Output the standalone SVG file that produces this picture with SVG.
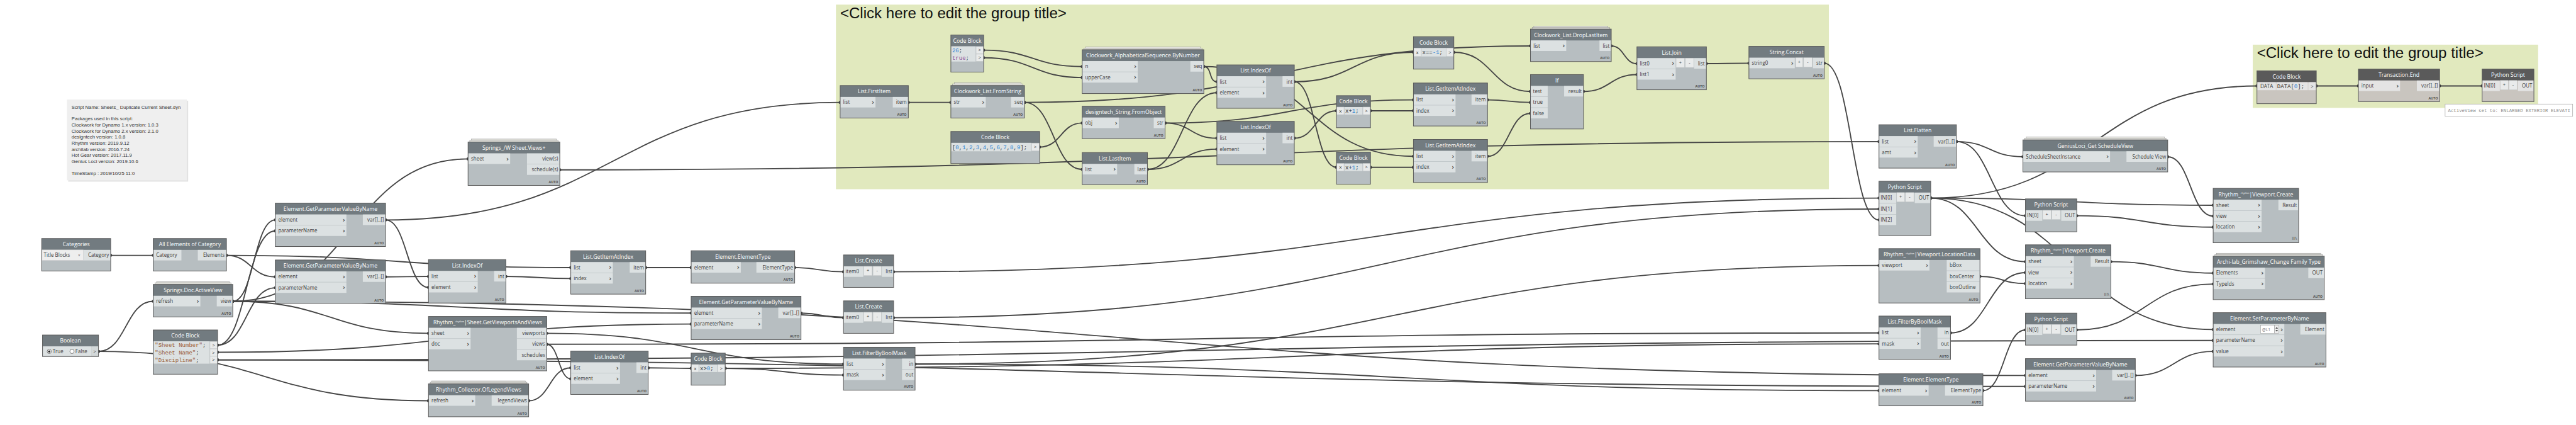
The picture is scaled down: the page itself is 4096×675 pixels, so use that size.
<svg xmlns="http://www.w3.org/2000/svg" width="4096" height="675" viewBox="0 0 4096 675">
<defs>
<style>
.nb{fill:#b7bec1}
.nh{fill:#727b80}
.ol{fill:none;stroke:#5a5a5a;stroke-width:1.5}
.nbx{fill:#c9c5bf}
.nhx{fill:#5a5a5a}
.pr{fill:#dce1e2}
.prx{fill:#e4e4e4}
.bt{fill:#e9ebeb;stroke:#c3c7c8;stroke-width:0.8}
.stk{fill:#e4e4de;stroke:#8c8c8c;stroke-width:0.8}
.ttl{font-family:"Open Sans",sans-serif;font-size:13px;fill:#ffffff;text-anchor:middle}
.pl{font-family:"Open Sans",sans-serif;font-size:12px;fill:#3c3c3c}
.pre{font-family:"Open Sans",sans-serif;font-size:12px;fill:#3c3c3c;text-anchor:end}
.ch{font-family:"DejaVu Sans",sans-serif;font-size:15px;font-weight:bold;fill:#4a4a4a;text-anchor:middle}
.au{font-family:"Open Sans",sans-serif;font-size:8px;font-weight:700;fill:#4d4d4d;text-anchor:end}
.btn{font-family:"Open Sans",sans-serif;font-size:11px;fill:#3c3c3c;text-anchor:middle}
.cd{font-family:"Liberation Mono",monospace;font-size:13.5px;fill:#333333}
.num{fill:#2d86d6}
.str{fill:#9a5d33}
.kw{fill:#8b4e9e}
.sup{font-size:6px}
.w{fill:none;stroke:#464646;stroke-width:2.8;marker-start:url(#dot);marker-end:url(#dot)}
.grp{fill:#e1e9be}
.gt{font-family:"Liberation Sans",sans-serif;font-size:36px;fill:#111111}
.note{font-family:"Liberation Sans",sans-serif;font-size:11.5px;fill:#333333}
</style>
<marker id="dot" viewBox="-4 -4 8 8" markerWidth="8" markerHeight="8" markerUnits="userSpaceOnUse" refX="0" refY="0"><circle r="3.6" fill="#3a3a3a"/></marker>
</defs>
<rect width="4096" height="675" fill="#ffffff"/>
<g transform="scale(0.669281)">
<g id="groups">
<rect class="grp" x="1986" y="11" width="2359" height="438"/>
<text class="gt" x="1996" y="43">&lt;Click here to edit the group title&gt;</text>
<rect class="grp" x="5352" y="106" width="678" height="150"/>
<text class="gt" x="5362" y="137">&lt;Click here to edit the group title&gt;</text>
</g>
<g id="note">
<rect x="162" y="239" width="285" height="192" fill="#e2e2e2"/>
<rect x="159" y="236" width="285" height="192" fill="#efefef"/>
<text class="note" x="170" y="258">Script Name: Sheets_ Duplicate Current Sheet.dyn</text>
<text class="note" x="170" y="285">Packages used in this script:</text>
<text class="note" x="170" y="300">Clockwork for Dynamo 1.x version: 1.0.3</text>
<text class="note" x="170" y="315">Clockwork for Dynamo 2.x version: 2.1.0</text>
<text class="note" x="170" y="329">designtech version: 1.0.8</text>
<text class="note" x="170" y="344">Rhythm version: 2019.9.12</text>
<text class="note" x="170" y="358">archilab version: 2016.7.24</text>
<text class="note" x="170" y="372">Hot Gear version: 2017.11.9</text>
<text class="note" x="170" y="387">Genius Loci version: 2019.10.6</text>
<text class="note" x="170" y="415">TimeStamp : 2019/10/25 11:0</text>
</g>
<g id="connectors">
<path class="w" d="M263 606H364"/>
<path class="w" d="M538 606C596 606 596 657 654 657"/>
<path class="w" d="M538 606C947 606 947 635 1356 635"/>
<path class="w" d="M553 715C603.5 715 603.5 522 654 522"/>
<path class="w" d="M517 819C585.5 819 585.5 548 654 548"/>
<path class="w" d="M517 819C585.5 819 585.5 683 654 683"/>
<path class="w" d="M553 715C832.5 715 832.5 377 1112 377"/>
<path class="w" d="M553 715C785.5 715 785.5 791 1018 791"/>
<path class="w" d="M553 715C1097.5 715 1097.5 743 1642 743"/>
<path class="w" d="M553 715C2682.5 715 2682.5 891 4812 891"/>
<path class="w" d="M234 834C299 834 299 715 364 715"/>
<path class="w" d="M234 834C626 834 626 951 1018 951"/>
<path class="w" d="M916 522C967 522 967 682 1018 682"/>
<path class="w" d="M916 522C1456 522 1456 243 1996 243"/>
<path class="w" d="M916 657C967 657 967 656 1018 656"/>
<path class="w" d="M1202 656C1279 656 1279 661 1356 661"/>
<path class="w" d="M1534 635H1642"/>
<path class="w" d="M1888 635C1946 635 1946 645 2004 645"/>
<path class="w" d="M517 836C1079.5 836 1079.5 769 1642 769"/>
<path class="w" d="M1903 743C1953.5 743 1953.5 754 2004 754"/>
<path class="w" d="M1299 791C1651.5 791 1651.5 864 2004 864"/>
<path class="w" d="M1299 817C1327.5 817 1327.5 899 1356 899"/>
<path class="w" d="M1299 817C2881.5 817 2881.5 790 4464 790"/>
<path class="w" d="M1256 951C1306 951 1306 873 1356 873"/>
<path class="w" d="M1540 873C1591 873 1591 874 1642 874"/>
<path class="w" d="M1723 874C1863.5 874 1863.5 890 2004 890"/>
<path class="w" d="M1723 874C3093.5 874 3093.5 816 4464 816"/>
<path class="w" d="M517 854C2887.5 854 2887.5 808 5258 808"/>
<path class="w" d="M517 854C2664.5 854 2664.5 917 4812 917"/>
<path class="w" d="M2174 864C3319 864 3319 630 4464 630"/>
<path class="w" d="M2174 864C3319 864 3319 927 4464 927"/>
<path class="w" d="M2123 645C3293.5 645 3293.5 470 4464 470"/>
<path class="w" d="M2123 754C3293.5 754 3293.5 496 4464 496"/>
<path class="w" d="M1330 403C2897 403 2897 336 4464 336"/>
<path class="w" d="M2158 243H2259"/>
<path class="w" d="M2434 243C3035 243 3035 109 3636 109"/>
<path class="w" d="M2434 243C2502.5 243 2502.5 402 2571 402"/>
<path class="w" d="M2337 119C2454 119 2454 158 2571 158"/>
<path class="w" d="M2337 137C2454 137 2454 184 2571 184"/>
<path class="w" d="M2470 349C2520.5 349 2520.5 292 2571 292"/>
<path class="w" d="M2860 158C2880 158 2871 194 2891 194"/>
<path class="w" d="M2860 158C3109 158 3109 371 3358 371"/>
<path class="w" d="M2768 292C2829.5 292 2829.5 328 2891 328"/>
<path class="w" d="M2768 292C3063 292 3063 237 3358 237"/>
<path class="w" d="M2726 402C2808.5 402 2808.5 220 2891 220"/>
<path class="w" d="M2726 402C2808.5 402 2808.5 354 2891 354"/>
<path class="w" d="M3075 194C3216.5 194 3216.5 124 3358 124"/>
<path class="w" d="M3075 194C3125 194 3125 397 3175 397"/>
<path class="w" d="M3075 328C3125 328 3125 263 3175 263"/>
<path class="w" d="M3256 263H3358"/>
<path class="w" d="M3256 397H3358"/>
<path class="w" d="M3454 124C3545 124 3545 217 3636 217"/>
<path class="w" d="M3534 237C3585 237 3585 243 3636 243"/>
<path class="w" d="M3534 371C3585 371 3585 269 3636 269"/>
<path class="w" d="M3828 109C3858.5 109 3858.5 151 3889 151"/>
<path class="w" d="M3762 217C3825.5 217 3825.5 177 3889 177"/>
<path class="w" d="M4054 151C4104 151 4104 150 4155 150"/>
<path class="w" d="M4334 150C4399 150 4399 522 4464 522"/>
<path class="w" d="M4648 336C4727 336 4727 372 4806 372"/>
<path class="w" d="M4648 336C4730 336 4730 512 4812 512"/>
<path class="w" d="M4587 470C4974.5 470 4974.5 204 5362 204"/>
<path class="w" d="M4587 470C4922.5 470 4922.5 487 5258 487"/>
<path class="w" d="M4587 470C4699.5 470 4699.5 621 4812 621"/>
<path class="w" d="M4587 470C4922.5 470 4922.5 782 5258 782"/>
<path class="w" d="M5150 372C5204 372 5204 513 5258 513"/>
<path class="w" d="M4934 512C5096 512 5096 539 5258 539"/>
<path class="w" d="M4704 656C4758 656 4758 673 4812 673"/>
<path class="w" d="M4634 790C4723 790 4723 647 4812 647"/>
<path class="w" d="M5015 621C5136.5 621 5136.5 648 5258 648"/>
<path class="w" d="M4711 927C4761.5 927 4761.5 783 4812 783"/>
<path class="w" d="M4934 783C5096 783 5096 674 5258 674"/>
<path class="w" d="M5073 891C5165.5 891 5165.5 834 5258 834"/>
<path class="w" d="M5503 204H5603"/>
<path class="w" d="M5796 204H5897"/>
</g>

<g id="n-categories" transform="translate(99,566)">
<rect class="nb" width="164" height="77"/><rect class="nh" width="164" height="27"/>
<text class="ttl" x="82" y="18.5">Categories</text>
<rect x="1" y="27" width="98" height="25" fill="#eeeeee" stroke="#cccccc" stroke-width="0.8"/>
<text class="pl" x="5" y="44">Title Blocks</text>
<text class="btn" x="89" y="42" style="font-size:8px">v</text>
<rect class="pr" x="99" y="27" width="64" height="25"/><text class="pre" x="160" y="44">Category</text>
<rect class="ol" width="164" height="77"/>
</g>

<g id="n-allelements" transform="translate(364,566)">
<rect class="nb" width="174" height="77"/><rect class="nh" width="174" height="27"/>
<text class="ttl" x="87" y="18.5">All Elements of Category</text>
<rect class="pr" x="1" y="27" width="66" height="25"/><text class="pl" x="7" y="44">Category</text>
<rect class="pr" x="106" y="27" width="67" height="25"/><text class="pre" x="170" y="44">Elements</text>
<rect class="ol" width="174" height="77"/>
</g>

<g id="n-getparam1" transform="translate(654,482)">
<rect class="nb" width="262" height="103"/><rect class="nh" width="262" height="27"/>
<text class="ttl" x="131" y="18.5">Element.GetParameterValueByName</text>
<rect class="pr" x="1" y="27" width="168" height="25"/><text class="pl" x="7" y="44">element</text><text class="ch" x="163" y="45">›</text>
<rect class="pr" x="1" y="53" width="168" height="25"/><text class="pl" x="7" y="70">parameterName</text><text class="ch" x="163" y="71">›</text>
<rect class="pr" x="208" y="27" width="53" height="25"/><text class="pre" x="258" y="44">var[]..[]</text>
<text class="au" x="258" y="98">AUTO</text>
<rect class="ol" width="262" height="103"/>
</g>

<g id="n-getparam2" transform="translate(654,617)">
<rect class="nb" width="262" height="103"/><rect class="nh" width="262" height="27"/>
<text class="ttl" x="131" y="18.5">Element.GetParameterValueByName</text>
<rect class="pr" x="1" y="27" width="168" height="25"/><text class="pl" x="7" y="44">element</text><text class="ch" x="163" y="45">›</text>
<rect class="pr" x="1" y="53" width="168" height="25"/><text class="pl" x="7" y="70">parameterName</text><text class="ch" x="163" y="71">›</text>
<rect class="pr" x="208" y="27" width="53" height="25"/><text class="pre" x="258" y="44">var[]..[]</text>
<text class="au" x="258" y="98">AUTO</text>
<rect class="ol" width="262" height="103"/>
</g>

<g id="n-activeview" transform="translate(364,675)">
<rect class="stk" x="8" y="-7" width="173" height="4"/><rect class="stk" x="4" y="-4" width="181" height="4"/>
<rect class="nb" width="189" height="77"/><rect class="nh" width="189" height="27"/>
<text class="ttl" x="94.5" y="18.5">Springs.Doc.ActiveView</text>
<rect class="pr" x="1" y="27" width="111" height="25"/><text class="pl" x="7" y="44">refresh</text><text class="ch" x="106" y="45">›</text>
<rect class="pr" x="151" y="27" width="37" height="25"/><text class="pre" x="185" y="44">view</text>
<text class="au" x="185" y="72">AUTO</text>
<rect class="ol" width="189" height="77"/>
</g>

<g id="n-boolean" transform="translate(101,795)">
<rect class="nb" width="133" height="51"/><rect class="nh" width="133" height="27"/>
<text class="ttl" x="66.5" y="18.5">Boolean</text>
<rect class="pr" x="1" y="27" width="115" height="23"/>
<circle cx="16" cy="39" r="5" fill="#ffffff" stroke="#444444" stroke-width="1"/><circle cx="16" cy="39" r="2.6" fill="#222222"/>
<text class="pl" x="24" y="43.5">True</text>
<circle cx="70" cy="39" r="5" fill="#ffffff" stroke="#444444" stroke-width="1"/>
<text class="pl" x="78" y="43.5">False</text>
<rect x="116" y="27" width="16" height="23" fill="#d3d8d9"/><text class="btn" x="124" y="43">&gt;</text>
<rect class="ol" width="133" height="51"/>
</g>

<g id="n-codeblock-params" transform="translate(364,783)">
<rect class="nb" width="153" height="105"/><rect class="nh" width="153" height="27"/>
<text class="ttl" x="76.5" y="18.5">Code Block</text>
<rect class="pr" x="1" y="27" width="133" height="53"/>
<text class="cd" x="4" y="40.5"><tspan class="str">"Sheet Number"</tspan>;</text>
<text class="cd" x="4" y="58"><tspan class="str">"Sheet Name"</tspan>;</text>
<text class="cd" x="4" y="75.5"><tspan class="str">"Discipline"</tspan>;</text>
<rect class="bt" x="135" y="27.5" width="17" height="17"/><text class="btn" x="143.5" y="40">&gt;</text>
<rect class="bt" x="135" y="45" width="17" height="17"/><text class="btn" x="143.5" y="57.5">&gt;</text>
<rect class="bt" x="135" y="62.5" width="17" height="17"/><text class="btn" x="143.5" y="75">&gt;</text>
<rect class="ol" width="153" height="105"/>
</g>

<g id="n-sheetviews" transform="translate(1112,337)">
<rect class="stk" x="8" y="-7" width="202" height="4"/><rect class="stk" x="4" y="-4" width="210" height="4"/>
<rect class="nb" width="218" height="103"/><rect class="nh" width="218" height="27"/>
<text class="ttl" x="109" y="18.5">Springs_/W Sheet.Views+</text>
<rect class="pr" x="1" y="27" width="99" height="25"/><text class="pl" x="7" y="44">sheet</text><text class="ch" x="94" y="45">›</text>
<rect class="pr" x="140" y="27" width="77" height="25"/><text class="pre" x="214" y="44">view(s)</text>
<rect class="pr" x="140" y="53" width="77" height="25"/><text class="pre" x="214" y="70">schedule(s)</text>
<text class="au" x="214" y="98">AUTO</text>
<rect class="ol" width="218" height="103"/>
</g>

<g id="n-indexof-a" transform="translate(1018,616)">
<rect class="nb" width="184" height="103"/><rect class="nh" width="184" height="27"/>
<text class="ttl" x="92" y="18.5">List.IndexOf</text>
<rect class="pr" x="1" y="27" width="116" height="25"/><text class="pl" x="7" y="44">list</text><text class="ch" x="111" y="45">›</text>
<rect class="pr" x="1" y="53" width="116" height="25"/><text class="pl" x="7" y="70">element</text><text class="ch" x="111" y="71">›</text>
<rect class="pr" x="156" y="27" width="27" height="25"/><text class="pre" x="180" y="44">int</text>
<text class="au" x="180" y="98">AUTO</text>
<rect class="ol" width="184" height="103"/>
</g>

<g id="n-getitem-a" transform="translate(1356,595)">
<rect class="nb" width="178" height="103"/><rect class="nh" width="178" height="27"/>
<text class="ttl" x="89" y="18.5">List.GetItemAtIndex</text>
<rect class="pr" x="1" y="27" width="99" height="25"/><text class="pl" x="7" y="44">list</text><text class="ch" x="94" y="45">›</text>
<rect class="pr" x="1" y="53" width="99" height="25"/><text class="pl" x="7" y="70">index</text><text class="ch" x="94" y="71">›</text>
<rect class="pr" x="140" y="27" width="37" height="25"/><text class="pre" x="174" y="44">item</text>
<text class="au" x="174" y="98">AUTO</text>
<rect class="ol" width="178" height="103"/>
</g>

<g id="n-elementtype-a" transform="translate(1642,595)">
<rect class="nb" width="246" height="77"/><rect class="nh" width="246" height="27"/>
<text class="ttl" x="123" y="18.5">Element.ElementType</text>
<rect class="pr" x="1" y="27" width="117" height="25"/><text class="pl" x="7" y="44">element</text><text class="ch" x="112" y="45">›</text>
<rect class="pr" x="155" y="27" width="90" height="25"/><text class="pre" x="242" y="44">ElementType</text>
<text class="au" x="242" y="72">AUTO</text>
<rect class="ol" width="246" height="77"/>
</g>

<g id="n-getparam3" transform="translate(1642,703)">
<rect class="nb" width="261" height="103"/><rect class="nh" width="261" height="27"/>
<text class="ttl" x="130.5" y="18.5">Element.GetParameterValueByName</text>
<rect class="pr" x="1" y="27" width="167" height="25"/><text class="pl" x="7" y="44">element</text><text class="ch" x="162" y="45">›</text>
<rect class="pr" x="1" y="53" width="167" height="25"/><text class="pl" x="7" y="70">parameterName</text><text class="ch" x="162" y="71">›</text>
<rect class="pr" x="207" y="27" width="53" height="25"/><text class="pre" x="257" y="44">var[]..[]</text>
<text class="au" x="257" y="98">AUTO</text>
<rect class="ol" width="261" height="103"/>
</g>

<g id="n-viewportsandviews" transform="translate(1018,751)">
<rect class="nb" width="281" height="129"/><rect class="nh" width="281" height="27"/>
<text class="ttl" x="140.5" y="18.5">Rhythm_<tspan class="sup" dy="-5">rhythm</tspan><tspan dy="5">|Sheet.GetViewportsAndViews</tspan></text>
<rect class="pr" x="1" y="27" width="99" height="25"/><text class="pl" x="7" y="44">sheet</text><text class="ch" x="94" y="45">›</text>
<rect class="pr" x="1" y="53" width="99" height="25"/><text class="pl" x="7" y="70">doc</text><text class="ch" x="94" y="71">›</text>
<rect class="pr" x="210" y="27" width="70" height="25"/><text class="pre" x="277" y="44">viewports</text>
<rect class="pr" x="210" y="53" width="70" height="25"/><text class="pre" x="277" y="70">views</text>
<rect class="pr" x="210" y="79" width="70" height="25"/><text class="pre" x="277" y="96">schedules</text>
<text class="au" x="277" y="124">AUTO</text>
<rect class="ol" width="281" height="129"/>
</g>

<g id="n-indexof-b" transform="translate(1356,833)">
<rect class="nb" width="184" height="103"/><rect class="nh" width="184" height="27"/>
<text class="ttl" x="92" y="18.5">List.IndexOf</text>
<rect class="pr" x="1" y="27" width="116" height="25"/><text class="pl" x="7" y="44">list</text><text class="ch" x="111" y="45">›</text>
<rect class="pr" x="1" y="53" width="116" height="25"/><text class="pl" x="7" y="70">element</text><text class="ch" x="111" y="71">›</text>
<rect class="pr" x="156" y="27" width="27" height="25"/><text class="pre" x="180" y="44">int</text>
<text class="au" x="180" y="98">AUTO</text>
<rect class="ol" width="184" height="103"/>
</g>

<g id="n-codeblock-gt0" transform="translate(1642,838)">
<rect class="nb" width="81" height="76"/><rect class="nh" width="81" height="27"/>
<text class="ttl" x="40.5" y="18.5">Code Block</text>
<rect class="bt" x="1" y="27" width="17" height="18"/><text class="btn" x="9.5" y="40">x</text>
<rect class="pr" x="19" y="27" width="43" height="18"/><text class="cd" x="21" y="40.5">x&gt;<tspan class="num">0</tspan>;</text>
<rect class="bt" x="63" y="27" width="17" height="18"/><text class="btn" x="71.5" y="40">&gt;</text>
<rect class="ol" width="81" height="76"/>
</g>

<g id="n-legendviews" transform="translate(1018,911)">
<rect class="stk" x="8" y="-7" width="222" height="4"/><rect class="stk" x="4" y="-4" width="230" height="4"/>
<rect class="nb" width="238" height="78"/><rect class="nh" width="238" height="27"/>
<text class="ttl" x="119" y="18.5">Rhythm_Collector.OfLegendViews</text>
<rect class="pr" x="1" y="27" width="110" height="25"/><text class="pl" x="7" y="44">refresh</text><text class="ch" x="105" y="45">›</text>
<rect class="pr" x="150" y="27" width="87" height="25"/><text class="pre" x="234" y="44">legendViews</text>
<text class="au" x="234" y="73">AUTO</text>
<rect class="ol" width="238" height="78"/>
</g>

<g id="n-listcreate-a" transform="translate(2004,605)">
<rect class="nb" width="119" height="77"/><rect class="nh" width="119" height="27"/>
<text class="ttl" x="59.5" y="18.5">List.Create</text>
<rect class="pr" x="1" y="27" width="46" height="25"/><text class="pl" x="5" y="44">item0</text>
<rect class="bt" x="48" y="27" width="20" height="22"/><text class="btn" x="58" y="41">+</text>
<rect class="bt" x="70" y="27" width="20" height="22"/><text class="btn" x="80" y="41">-</text>
<rect class="pr" x="91" y="27" width="27" height="25"/><text class="pre" x="116" y="44">list</text>
<rect class="ol" width="119" height="77"/>
</g>

<g id="n-listcreate-b" transform="translate(2004,714)">
<rect class="nb" width="119" height="77"/><rect class="nh" width="119" height="27"/>
<text class="ttl" x="59.5" y="18.5">List.Create</text>
<rect class="pr" x="1" y="27" width="46" height="25"/><text class="pl" x="5" y="44">item0</text>
<rect class="bt" x="48" y="27" width="20" height="22"/><text class="btn" x="58" y="41">+</text>
<rect class="bt" x="70" y="27" width="20" height="22"/><text class="btn" x="80" y="41">-</text>
<rect class="pr" x="91" y="27" width="27" height="25"/><text class="pre" x="116" y="44">list</text>
<rect class="ol" width="119" height="77"/>
</g>

<g id="n-filter-a" transform="translate(2004,824)">
<rect class="nb" width="170" height="102"/><rect class="nh" width="170" height="27"/>
<text class="ttl" x="85" y="18.5">List.FilterByBoolMask</text>
<rect class="pr" x="1" y="27" width="99" height="25"/><text class="pl" x="7" y="44">list</text><text class="ch" x="94" y="45">›</text>
<rect class="pr" x="1" y="53" width="99" height="25"/><text class="pl" x="7" y="70">mask</text><text class="ch" x="94" y="71">›</text>
<rect class="pr" x="139" y="27" width="30" height="25"/><text class="pre" x="166" y="44">in</text>
<rect class="pr" x="139" y="53" width="30" height="25"/><text class="pre" x="166" y="70">out</text>
<text class="au" x="166" y="97">AUTO</text>
<rect class="ol" width="170" height="102"/>
</g>

<g id="n-codeblock-26" transform="translate(2259,83)">
<rect class="nb" width="78" height="88"/><rect class="nh" width="78" height="27"/>
<text class="ttl" x="39" y="18.5">Code Block</text>
<rect class="pr" x="1" y="27" width="58" height="36"/>
<text class="cd" x="3" y="41"><tspan class="num">26</tspan>;</text>
<text class="cd" x="3" y="59"><tspan class="kw">true</tspan>;</text>
<rect class="bt" x="60" y="27.5" width="17" height="17"/><text class="btn" x="68.5" y="40">&gt;</text>
<rect class="bt" x="60" y="45.5" width="17" height="17"/><text class="btn" x="68.5" y="58">&gt;</text>
<rect class="ol" width="78" height="88"/>
</g>

<g id="n-alphasequence" transform="translate(2571,118)">
<rect class="stk" x="8" y="-7" width="273" height="4"/><rect class="stk" x="4" y="-4" width="281" height="4"/>
<rect class="nb" width="289" height="104"/><rect class="nh" width="289" height="27"/>
<text class="ttl" x="144.5" y="18.5">Clockwork_AlphabeticalSequence.ByNumber</text>
<rect class="pr" x="1" y="27" width="131" height="25"/><text class="pl" x="7" y="44">n</text><text class="ch" x="126" y="45">›</text>
<rect class="pr" x="1" y="53" width="131" height="25"/><text class="pl" x="7" y="70">upperCase</text><text class="ch" x="126" y="71">›</text>
<rect class="pr" x="257" y="27" width="31" height="25"/><text class="pre" x="285" y="44">seq</text>
<text class="au" x="285" y="99">AUTO</text>
<rect class="ol" width="289" height="104"/>
</g>

<g id="n-firstitem" transform="translate(1996,203)">
<rect class="nb" width="162" height="77"/><rect class="nh" width="162" height="27"/>
<text class="ttl" x="81" y="18.5">List.FirstItem</text>
<rect class="pr" x="1" y="27" width="83" height="25"/><text class="pl" x="7" y="44">list</text><text class="ch" x="78" y="45">›</text>
<rect class="pr" x="125" y="27" width="36" height="25"/><text class="pre" x="158" y="44">item</text>
<text class="au" x="158" y="72">AUTO</text>
<rect class="ol" width="162" height="77"/>
</g>

<g id="n-fromstring" transform="translate(2259,203)">
<rect class="stk" x="8" y="-7" width="159" height="4"/><rect class="stk" x="4" y="-4" width="167" height="4"/>
<rect class="nb" width="175" height="77"/><rect class="nh" width="175" height="27"/>
<text class="ttl" x="87.5" y="18.5">Clockwork_List.FromString</text>
<rect class="pr" x="1" y="27" width="82" height="25"/><text class="pl" x="7" y="44">str</text><text class="ch" x="77" y="45">›</text>
<rect class="pr" x="143" y="27" width="31" height="25"/><text class="pre" x="171" y="44">seq</text>
<text class="au" x="171" y="72">AUTO</text>
<rect class="ol" width="175" height="77"/>
</g>

<g id="n-fromobject" transform="translate(2571,252)">
<rect class="nb" width="197" height="77"/><rect class="nh" width="197" height="27"/>
<text class="ttl" x="98.5" y="18.5">designtech_String.FromObject</text>
<rect class="pr" x="1" y="27" width="86" height="25"/><text class="pl" x="7" y="44">obj</text><text class="ch" x="81" y="45">›</text>
<rect class="pr" x="170" y="27" width="26" height="25"/><text class="pre" x="193" y="44">str</text>
<text class="au" x="193" y="72">AUTO</text>
<rect class="ol" width="197" height="77"/>
</g>

<g id="n-codeblock-digits" transform="translate(2259,312)">
<rect class="nb" width="211" height="76"/><rect class="nh" width="211" height="27"/>
<text class="ttl" x="105.5" y="18.5">Code Block</text>
<rect class="pr" x="1" y="27" width="190" height="20"/>
<text class="cd" x="3" y="41.5">[<tspan class="num">0</tspan>,<tspan class="num">1</tspan>,<tspan class="num">2</tspan>,<tspan class="num">3</tspan>,<tspan class="num">4</tspan>,<tspan class="num">5</tspan>,<tspan class="num">6</tspan>,<tspan class="num">7</tspan>,<tspan class="num">8</tspan>,<tspan class="num">9</tspan>];</text>
<rect class="bt" x="192" y="28" width="18" height="18"/><text class="btn" x="201" y="41">&gt;</text>
<rect class="ol" width="211" height="76"/>
</g>

<g id="n-lastitem" transform="translate(2571,362)">
<rect class="nb" width="155" height="76"/><rect class="nh" width="155" height="27"/>
<text class="ttl" x="77.5" y="18.5">List.LastItem</text>
<rect class="pr" x="1" y="27" width="82" height="25"/><text class="pl" x="7" y="44">list</text><text class="ch" x="77" y="45">›</text>
<rect class="pr" x="124" y="27" width="30" height="25"/><text class="pre" x="151" y="44">last</text>
<text class="au" x="151" y="71">AUTO</text>
<rect class="ol" width="155" height="76"/>
</g>

<g id="n-indexof-c" transform="translate(2891,154)">
<rect class="nb" width="184" height="103"/><rect class="nh" width="184" height="27"/>
<text class="ttl" x="92" y="18.5">List.IndexOf</text>
<rect class="pr" x="1" y="27" width="116" height="25"/><text class="pl" x="7" y="44">list</text><text class="ch" x="111" y="45">›</text>
<rect class="pr" x="1" y="53" width="116" height="25"/><text class="pl" x="7" y="70">element</text><text class="ch" x="111" y="71">›</text>
<rect class="pr" x="156" y="27" width="27" height="25"/><text class="pre" x="180" y="44">int</text>
<text class="au" x="180" y="98">AUTO</text>
<rect class="ol" width="184" height="103"/>
</g>

<g id="n-indexof-d" transform="translate(2891,288)">
<rect class="nb" width="184" height="103"/><rect class="nh" width="184" height="27"/>
<text class="ttl" x="92" y="18.5">List.IndexOf</text>
<rect class="pr" x="1" y="27" width="116" height="25"/><text class="pl" x="7" y="44">list</text><text class="ch" x="111" y="45">›</text>
<rect class="pr" x="1" y="53" width="116" height="25"/><text class="pl" x="7" y="70">element</text><text class="ch" x="111" y="71">›</text>
<rect class="pr" x="156" y="27" width="27" height="25"/><text class="pre" x="180" y="44">int</text>
<text class="au" x="180" y="98">AUTO</text>
<rect class="ol" width="184" height="103"/>
</g>

<g id="n-codeblock-eq" transform="translate(3358,87)">
<rect class="nb" width="96" height="77"/><rect class="nh" width="96" height="27"/>
<text class="ttl" x="48" y="18.5">Code Block</text>
<rect class="bt" x="1" y="27" width="17" height="20"/><text class="btn" x="9.5" y="41">x</text>
<rect class="pr" x="19" y="27" width="58" height="20"/><text class="cd" x="21" y="41.5">x==<tspan class="num">-1</tspan>;</text>
<rect class="bt" x="78" y="27" width="17" height="20"/><text class="btn" x="86.5" y="41">&gt;</text>
<rect class="ol" width="96" height="77"/>
</g>

<g id="n-codeblock-inc-a" transform="translate(3175,227)">
<rect class="nb" width="81" height="76"/><rect class="nh" width="81" height="27"/>
<text class="ttl" x="40.5" y="18.5">Code Block</text>
<rect class="bt" x="1" y="27" width="17" height="18"/><text class="btn" x="9.5" y="40">x</text>
<rect class="pr" x="19" y="27" width="43" height="18"/><text class="cd" x="21" y="40.5">x+<tspan class="num">1</tspan>;</text>
<rect class="bt" x="63" y="27" width="17" height="18"/><text class="btn" x="71.5" y="40">&gt;</text>
<rect class="ol" width="81" height="76"/>
</g>

<g id="n-codeblock-inc-b" transform="translate(3175,361)">
<rect class="nb" width="81" height="76"/><rect class="nh" width="81" height="27"/>
<text class="ttl" x="40.5" y="18.5">Code Block</text>
<rect class="bt" x="1" y="27" width="17" height="18"/><text class="btn" x="9.5" y="40">x</text>
<rect class="pr" x="19" y="27" width="43" height="18"/><text class="cd" x="21" y="40.5">x+<tspan class="num">1</tspan>;</text>
<rect class="bt" x="63" y="27" width="17" height="18"/><text class="btn" x="71.5" y="40">&gt;</text>
<rect class="ol" width="81" height="76"/>
</g>

<g id="n-getitem-b" transform="translate(3358,197)">
<rect class="nb" width="176" height="102"/><rect class="nh" width="176" height="27"/>
<text class="ttl" x="88" y="18.5">List.GetItemAtIndex</text>
<rect class="pr" x="1" y="27" width="99" height="25"/><text class="pl" x="7" y="44">list</text><text class="ch" x="94" y="45">›</text>
<rect class="pr" x="1" y="53" width="99" height="25"/><text class="pl" x="7" y="70">index</text><text class="ch" x="94" y="71">›</text>
<rect class="pr" x="138" y="27" width="37" height="25"/><text class="pre" x="172" y="44">item</text>
<text class="au" x="172" y="97">AUTO</text>
<rect class="ol" width="176" height="102"/>
</g>

<g id="n-getitem-c" transform="translate(3358,331)">
<rect class="nb" width="176" height="102"/><rect class="nh" width="176" height="27"/>
<text class="ttl" x="88" y="18.5">List.GetItemAtIndex</text>
<rect class="pr" x="1" y="27" width="99" height="25"/><text class="pl" x="7" y="44">list</text><text class="ch" x="94" y="45">›</text>
<rect class="pr" x="1" y="53" width="99" height="25"/><text class="pl" x="7" y="70">index</text><text class="ch" x="94" y="71">›</text>
<rect class="pr" x="138" y="27" width="37" height="25"/><text class="pre" x="172" y="44">item</text>
<text class="au" x="172" y="97">AUTO</text>
<rect class="ol" width="176" height="102"/>
</g>

<g id="n-droplast" transform="translate(3636,69)">
<rect class="stk" x="8" y="-7" width="176" height="4"/><rect class="stk" x="4" y="-4" width="184" height="4"/>
<rect class="nb" width="192" height="77"/><rect class="nh" width="192" height="27"/>
<text class="ttl" x="96" y="18.5">Clockwork_List.DropLastItem</text>
<rect class="pr" x="1" y="27" width="84" height="25"/><text class="pl" x="7" y="44">list</text><text class="ch" x="79" y="45">›</text>
<rect class="pr" x="164" y="27" width="27" height="25"/><text class="pre" x="188" y="44">list</text>
<text class="au" x="188" y="72">AUTO</text>
<rect class="ol" width="192" height="77"/>
</g>

<g id="n-if" transform="translate(3636,177)">
<rect class="nb" width="126" height="129"/><rect class="nh" width="126" height="27"/>
<text class="ttl" x="63" y="18.5">If</text>
<rect class="pr" x="1" y="27" width="40" height="25"/><text class="pl" x="6" y="44">test</text>
<rect class="pr" x="1" y="53" width="40" height="25"/><text class="pl" x="6" y="70">true</text>
<rect class="pr" x="1" y="79" width="40" height="25"/><text class="pl" x="6" y="96">false</text>
<rect class="pr" x="80" y="27" width="45" height="25"/><text class="pre" x="122" y="44">result</text>
<rect class="ol" width="126" height="129"/>
</g>

<g id="n-listjoin" transform="translate(3889,111)">
<rect class="nb" width="165" height="102"/><rect class="nh" width="165" height="27"/>
<text class="ttl" x="82.5" y="18.5">List.Join</text>
<rect class="pr" x="1" y="27" width="91" height="25"/><text class="pl" x="7" y="44">list0</text><text class="ch" x="86" y="45">›</text>
<rect class="pr" x="1" y="53" width="91" height="25"/><text class="pl" x="7" y="70">list1</text><text class="ch" x="86" y="71">›</text>
<rect class="bt" x="93" y="27" width="20" height="22"/><text class="btn" x="103" y="41">+</text>
<rect class="bt" x="115" y="27" width="20" height="22"/><text class="btn" x="125" y="41">-</text>
<rect class="pr" x="136" y="27" width="28" height="25"/><text class="pre" x="161" y="44">list</text>
<text class="au" x="161" y="97">AUTO</text>
<rect class="ol" width="165" height="102"/>
</g>

<g id="n-concat" transform="translate(4155,110)">
<rect class="nb" width="179" height="77"/><rect class="nh" width="179" height="27"/>
<text class="ttl" x="89.5" y="18.5">String.Concat</text>
<rect class="pr" x="1" y="27" width="108" height="25"/><text class="pl" x="7" y="44">string0</text><text class="ch" x="103" y="45">›</text>
<rect class="bt" x="111" y="27" width="17" height="22"/><text class="btn" x="119.5" y="41">+</text>
<rect class="bt" x="130" y="27" width="20" height="22"/><text class="btn" x="140" y="41">-</text>
<rect class="pr" x="152" y="27" width="26" height="25"/><text class="pre" x="175" y="44">str</text>
<text class="au" x="175" y="72">AUTO</text>
<rect class="ol" width="179" height="77"/>
</g>

<g id="n-flatten" transform="translate(4464,296)">
<rect class="nb" width="184" height="103"/><rect class="nh" width="184" height="27"/>
<text class="ttl" x="92" y="18.5">List.Flatten</text>
<rect class="pr" x="1" y="27" width="91" height="25"/><text class="pl" x="7" y="44">list</text><text class="ch" x="86" y="45">›</text>
<rect class="pr" x="1" y="53" width="91" height="25"/><text class="pl" x="7" y="70">amt</text><text class="ch" x="86" y="71">›</text>
<rect class="pr" x="130" y="27" width="53" height="25"/><text class="pre" x="180" y="44">var[]..[]</text>
<text class="au" x="180" y="98">AUTO</text>
<rect class="ol" width="184" height="103"/>
</g>

<g id="n-scheduleview" transform="translate(4806,332)">
<rect class="stk" x="8" y="-7" width="328" height="4"/><rect class="stk" x="4" y="-4" width="336" height="4"/>
<rect class="nb" width="344" height="76"/><rect class="nh" width="344" height="27"/>
<text class="ttl" x="172" y="18.5">GeniusLoci_Get ScheduleView</text>
<rect class="pr" x="1" y="27" width="206" height="25"/><text class="pl" x="7" y="44">ScheduleSheetInstance</text><text class="ch" x="201" y="45">›</text>
<rect class="pr" x="246" y="27" width="97" height="25"/><text class="pre" x="340" y="44">Schedule View</text>
<text class="au" x="340" y="71">AUTO</text>
<rect class="ol" width="344" height="76"/>
</g>

<g id="n-python-a" transform="translate(4464,430)">
<rect class="nb" width="123" height="129"/><rect class="nh" width="123" height="27"/>
<text class="ttl" x="61.5" y="18.5">Python Script</text>
<rect class="pr" x="1" y="27" width="40" height="25"/><text class="pl" x="4" y="44">IN[0]</text>
<rect class="pr" x="1" y="53" width="40" height="25"/><text class="pl" x="4" y="70">IN[1]</text>
<rect class="pr" x="1" y="79" width="40" height="25"/><text class="pl" x="4" y="96">IN[2]</text>
<rect class="bt" x="42" y="27" width="19" height="22"/><text class="btn" x="51.5" y="41">+</text>
<rect class="bt" x="63" y="27" width="20" height="22"/><text class="btn" x="73" y="41">-</text>
<rect class="pr" x="85" y="27" width="37" height="25"/><text class="pre" x="119" y="44">OUT</text>
<rect class="ol" width="123" height="129"/>
</g>

<g id="n-python-b" transform="translate(4812,472)">
<rect class="nb" width="122" height="78"/><rect class="nh" width="122" height="27"/>
<text class="ttl" x="61" y="18.5">Python Script</text>
<rect class="pr" x="1" y="27" width="39" height="25"/><text class="pl" x="4" y="44">IN[0]</text>
<rect class="bt" x="41" y="27" width="20" height="22"/><text class="btn" x="51" y="41">+</text>
<rect class="bt" x="63" y="27" width="20" height="22"/><text class="btn" x="73" y="41">-</text>
<rect class="pr" x="85" y="27" width="36" height="25"/><text class="pre" x="118" y="44">OUT</text>
<rect class="ol" width="122" height="78"/>
</g>

<g id="n-locationdata" transform="translate(4464,590)">
<rect class="nb" width="240" height="129"/><rect class="nh" width="240" height="27"/>
<text class="ttl" x="120" y="18.5">Rhythm_<tspan class="sup" dy="-5">rhythm</tspan><tspan dy="5">|Viewport.LocationData</tspan></text>
<rect class="pr" x="1" y="27" width="119" height="25"/><text class="pl" x="7" y="44">viewport</text><text class="ch" x="114" y="45">›</text>
<rect class="pr" x="161" y="27" width="78" height="25"/><text class="pl" x="168" y="44">bBox</text>
<rect class="pr" x="161" y="53" width="78" height="25"/><text class="pl" x="168" y="70">boxCenter</text>
<rect class="pr" x="161" y="79" width="78" height="25"/><text class="pl" x="168" y="96">boxOutline</text>
<text class="au" x="236" y="124">AUTO</text>
<rect class="ol" width="240" height="129"/>
</g>

<g id="n-viewportcreate-a" transform="translate(4812,581)">
<rect class="nb" width="203" height="128"/><rect class="nh" width="203" height="27"/>
<text class="ttl" x="101.5" y="18.5">Rhythm_<tspan class="sup" dy="-5">rhythm</tspan><tspan dy="5">|Viewport.Create</tspan></text>
<rect class="pr" x="1" y="27" width="114" height="25"/><text class="pl" x="7" y="44">sheet</text><text class="ch" x="109" y="45">›</text>
<rect class="pr" x="1" y="53" width="114" height="25"/><text class="pl" x="7" y="70">view</text><text class="ch" x="109" y="71">›</text>
<rect class="pr" x="1" y="79" width="114" height="25"/><text class="pl" x="7" y="96">location</text><text class="ch" x="109" y="97">›</text>
<rect class="pr" x="155" y="27" width="47" height="25"/><text class="pre" x="199" y="44">Result</text>
<text class="au" x="199" y="122" style="font-weight:400;font-size:10px">III\</text>
<rect class="ol" width="203" height="128"/>
</g>

<g id="n-filter-b" transform="translate(4464,750)">
<rect class="nb" width="170" height="103"/><rect class="nh" width="170" height="27"/>
<text class="ttl" x="85" y="18.5">List.FilterByBoolMask</text>
<rect class="pr" x="1" y="27" width="98" height="25"/><text class="pl" x="7" y="44">list</text><text class="ch" x="93" y="45">›</text>
<rect class="pr" x="1" y="53" width="98" height="25"/><text class="pl" x="7" y="70">mask</text><text class="ch" x="93" y="71">›</text>
<rect class="pr" x="139" y="27" width="30" height="25"/><text class="pre" x="166" y="44">in</text>
<rect class="pr" x="139" y="53" width="30" height="25"/><text class="pre" x="166" y="70">out</text>
<text class="au" x="166" y="98">AUTO</text>
<rect class="ol" width="170" height="103"/>
</g>

<g id="n-python-c" transform="translate(4812,743)">
<rect class="nb" width="122" height="76"/><rect class="nh" width="122" height="27"/>
<text class="ttl" x="61" y="18.5">Python Script</text>
<rect class="pr" x="1" y="27" width="39" height="25"/><text class="pl" x="4" y="44">IN[0]</text>
<rect class="bt" x="41" y="27" width="20" height="22"/><text class="btn" x="51" y="41">+</text>
<rect class="bt" x="63" y="27" width="20" height="22"/><text class="btn" x="73" y="41">-</text>
<rect class="pr" x="85" y="27" width="36" height="25"/><text class="pre" x="118" y="44">OUT</text>
<rect class="ol" width="122" height="76"/>
</g>

<g id="n-elementtype-b" transform="translate(4464,887)">
<rect class="nb" width="247" height="76"/><rect class="nh" width="247" height="27"/>
<text class="ttl" x="123.5" y="18.5">Element.ElementType</text>
<rect class="pr" x="1" y="27" width="117" height="25"/><text class="pl" x="7" y="44">element</text><text class="ch" x="112" y="45">›</text>
<rect class="pr" x="157" y="27" width="89" height="25"/><text class="pre" x="243" y="44">ElementType</text>
<text class="au" x="243" y="71">AUTO</text>
<rect class="ol" width="247" height="76"/>
</g>

<g id="n-getparam4" transform="translate(4812,851)">
<rect class="nb" width="261" height="101"/><rect class="nh" width="261" height="27"/>
<text class="ttl" x="130.5" y="18.5">Element.GetParameterValueByName</text>
<rect class="pr" x="1" y="27" width="167" height="25"/><text class="pl" x="7" y="44">element</text><text class="ch" x="162" y="45">›</text>
<rect class="pr" x="1" y="53" width="167" height="25"/><text class="pl" x="7" y="70">parameterName</text><text class="ch" x="162" y="71">›</text>
<rect class="pr" x="206" y="27" width="54" height="25"/><text class="pre" x="257" y="44">var[]..[]</text>
<text class="au" x="257" y="96">AUTO</text>
<rect class="ol" width="261" height="101"/>
</g>

<g id="n-viewportcreate-b" transform="translate(5258,447)">
<rect class="nb" width="203" height="129"/><rect class="nh" width="203" height="27"/>
<text class="ttl" x="101.5" y="18.5">Rhythm_<tspan class="sup" dy="-5">rhythm</tspan><tspan dy="5">|Viewport.Create</tspan></text>
<rect class="pr" x="1" y="27" width="114" height="25"/><text class="pl" x="7" y="44">sheet</text><text class="ch" x="109" y="45">›</text>
<rect class="pr" x="1" y="53" width="114" height="25"/><text class="pl" x="7" y="70">view</text><text class="ch" x="109" y="71">›</text>
<rect class="pr" x="1" y="79" width="114" height="25"/><text class="pl" x="7" y="96">location</text><text class="ch" x="109" y="97">›</text>
<rect class="pr" x="155" y="27" width="47" height="25"/><text class="pre" x="199" y="44">Result</text>
<text class="au" x="199" y="123" style="font-weight:400;font-size:10px">III\</text>
<rect class="ol" width="203" height="129"/>
</g>

<g id="n-changefamilytype" transform="translate(5258,608)">
<rect class="stk" x="8" y="-7" width="248" height="4"/><rect class="stk" x="4" y="-4" width="256" height="4"/>
<rect class="nb" width="264" height="103"/><rect class="nh" width="264" height="27"/>
<text class="ttl" x="132" y="18.5">Archi-lab_Grimshaw_Change Family Type</text>
<rect class="pr" x="1" y="27" width="122" height="25"/><text class="pl" x="7" y="44">Elements</text><text class="ch" x="117" y="45">›</text>
<rect class="pr" x="1" y="53" width="122" height="25"/><text class="pl" x="7" y="70">TypeIds</text><text class="ch" x="117" y="71">›</text>
<rect class="pr" x="226" y="27" width="37" height="25"/><text class="pre" x="260" y="44">OUT</text>
<text class="au" x="260" y="98">AUTO</text>
<rect class="ol" width="264" height="103"/>
</g>

<g id="n-setparameter" transform="translate(5258,742)">
<rect class="nb" width="268" height="129"/><rect class="nh" width="268" height="27"/>
<text class="ttl" x="134" y="18.5">Element.SetParameterByName</text>
<rect class="pr" x="1" y="27" width="168" height="25"/><text class="pl" x="7" y="44">element</text><text class="ch" x="163" y="45">›</text>
<rect x="113" y="30" width="33" height="19" fill="#ffffff" stroke="#9a9a9a" stroke-width="0.8"/>
<text class="pl" x="116" y="44" style="font-size:10px;fill:#777777">@L1</text>
<rect x="146" y="30" width="10" height="19" fill="#eeeeee" stroke="#9a9a9a" stroke-width="0.8"/>
<polygon points="148,38 151,34 154,38" fill="#555555"/><polygon points="148,41 151,45 154,41" fill="#555555"/>
<rect class="pr" x="1" y="53" width="168" height="25"/><text class="pl" x="7" y="70">parameterName</text><text class="ch" x="163" y="71">›</text>
<rect class="pr" x="1" y="79" width="168" height="25"/><text class="pl" x="7" y="96">value</text><text class="ch" x="163" y="97">›</text>
<rect class="pr" x="207" y="27" width="60" height="25"/><text class="pre" x="264" y="44">Element</text>
<text class="au" x="264" y="124">AUTO</text>
<rect class="ol" width="268" height="129"/>
</g>

<g id="n-codeblock-data" transform="translate(5362,168)">
<rect class="nbx" width="141" height="78"/><rect class="nhx" width="141" height="27"/>
<text class="ttl" x="70.5" y="18.5">Code Block</text>
<rect class="prx" x="1" y="27" width="44" height="19"/><text class="btn" x="23" y="41" style="font-size:12px">DATA</text>
<rect class="prx" x="46" y="27" width="75" height="19"/><text class="cd" x="48" y="41.5">DATA[<tspan class="num">0</tspan>];</text>
<rect class="prx" x="122" y="27" width="18" height="19"/><text class="btn" x="131" y="41">&gt;</text>
<rect class="ol" width="141" height="78"/>
</g>

<g id="n-transactionend" transform="translate(5603,164)">
<rect class="nbx" width="193" height="77"/><rect class="nhx" width="193" height="27"/>
<text class="ttl" x="96.5" y="18.5">Transaction.End</text>
<rect class="prx" x="1" y="27" width="98" height="25"/><text class="pl" x="7" y="44">input</text><text class="ch" x="93" y="45">›</text>
<rect class="prx" x="139" y="27" width="53" height="25"/><text class="pre" x="189" y="44">var[]..[]</text>
<text class="au" x="189" y="72">AUTO</text>
<rect class="ol" width="193" height="77"/>
</g>

<g id="n-python-g2" transform="translate(5897,164)">
<rect class="nbx" width="123" height="77"/><rect class="nhx" width="123" height="27"/>
<text class="ttl" x="61.5" y="18.5">Python Script</text>
<rect class="prx" x="1" y="27" width="41" height="25"/><text class="pl" x="4" y="44">IN[0]</text>
<rect class="bt" x="43" y="27" width="19" height="22"/><text class="btn" x="52.5" y="41">+</text>
<rect class="bt" x="64" y="27" width="19" height="22"/><text class="btn" x="73.5" y="41">-</text>
<rect class="prx" x="85" y="27" width="37" height="25"/><text class="pre" x="119" y="44">OUT</text>
<rect class="ol" width="123" height="77"/>
</g>

<g id="preview-bubble">
<rect x="5809" y="247" width="303" height="29" fill="#ffffff" stroke="#b0b0b0" stroke-width="1.2"/>
<text x="5816" y="266" style="font-family:'Liberation Mono',monospace;font-size:11px;fill:#8a8a8a">ActiveView set to: ENLARGED EXTERIOR ELEVATI</text>
</g>
</g>
</svg>
